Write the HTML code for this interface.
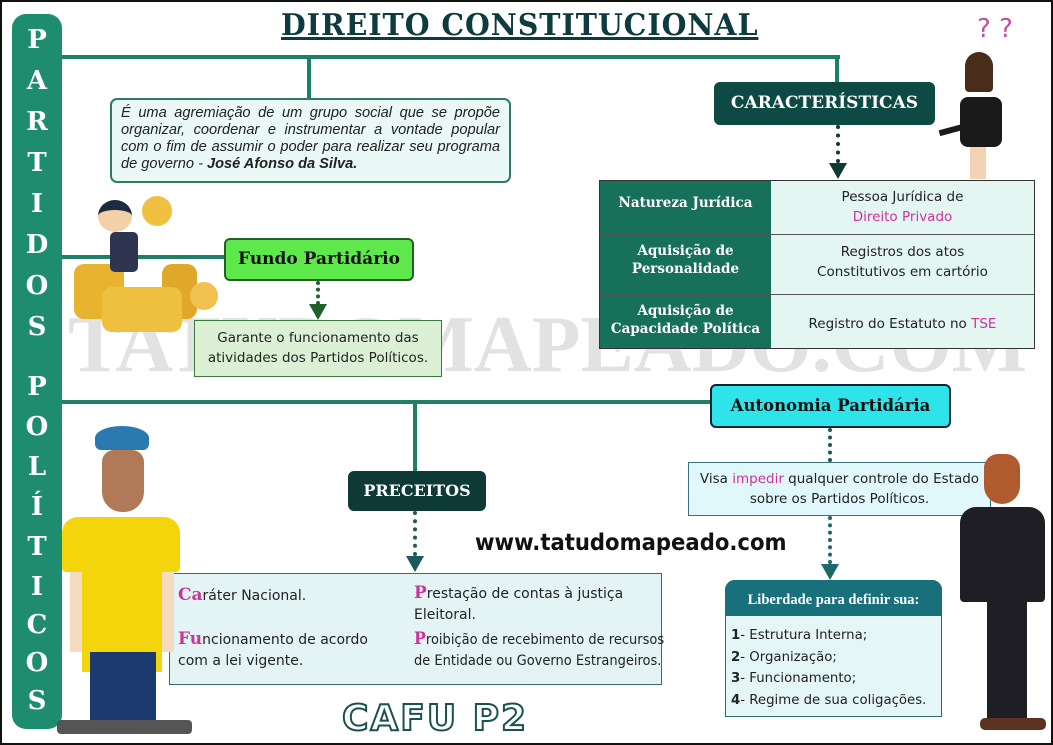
<!DOCTYPE html>
<html><head><meta charset="utf-8"><style>
*{margin:0;padding:0;box-sizing:border-box}
body{width:1053px;height:745px;position:relative;background:#fff;overflow:hidden;font-family:"DejaVu Sans","Liberation Sans",sans-serif;border:2px solid #111}
.a{position:absolute}
.ln{position:absolute;background:#1e8068}
.sf{font-family:"DejaVu Serif","Liberation Serif",serif;font-weight:bold}
.dot{position:absolute;width:0;border-left:4px dotted}
.tri{position:absolute;width:0;height:0;border-left:9px solid transparent;border-right:9px solid transparent;border-top:16px solid}
.c{text-align:center}
.pk{color:#d0329a}
.lt{position:absolute;left:10px;width:50px;text-align:center;color:#fff;font-size:26px;line-height:30px;font-family:"DejaVu Serif","Liberation Serif",serif;font-weight:bold}
</style></head><body>
<!-- watermark -->
<div class="a" style="left:66px;top:298px;width:960px;height:90px;overflow:hidden"><div style="font-family:'Liberation Serif',serif;font-weight:bold;font-size:80px;color:#e2e2e2;white-space:nowrap">TATUDOMAPEADO.COM</div></div>

<!-- left bar -->
<div class="a" style="left:10px;top:12px;width:50px;height:715px;background:#1e8c6e;border-radius:14px"></div>
<div class="lt" style="top:23px">P</div>
<div class="lt" style="top:64px">A</div>
<div class="lt" style="top:105px">R</div>
<div class="lt" style="top:146px">T</div>
<div class="lt" style="top:187px">I</div>
<div class="lt" style="top:228px">D</div>
<div class="lt" style="top:269px">O</div>
<div class="lt" style="top:310px">S</div>
<div class="lt" style="top:370px">P</div>
<div class="lt" style="top:410px">O</div>
<div class="lt" style="top:450px">L</div>
<div class="lt" style="top:490px">Í</div>
<div class="lt" style="top:530px">T</div>
<div class="lt" style="top:570px">I</div>
<div class="lt" style="top:608px">C</div>
<div class="lt" style="top:646px">O</div>
<div class="lt" style="top:684px">S</div>

<!-- title -->
<div class="a sf" style="left:279px;top:6px;font-size:30px;color:#0d3b3f;letter-spacing:1px;text-decoration:underline;text-decoration-thickness:3px;font-weight:900;white-space:nowrap;transform:scaleX(0.95);transform-origin:left">DIREITO CONSTITUCIONAL</div>

<!-- lines -->
<div class="ln" style="left:60px;top:53px;width:778px;height:4px"></div>
<div class="ln" style="left:305px;top:53px;width:4px;height:44px"></div>
<div class="ln" style="left:833px;top:53px;width:4px;height:28px"></div>
<div class="ln" style="left:60px;top:253px;width:163px;height:4px"></div>
<div class="ln" style="left:60px;top:398px;width:650px;height:4px"></div>
<div class="ln" style="left:411px;top:398px;width:4px;height:72px"></div>

<!-- definition -->
<div class="a" style="left:108px;top:96px;width:401px;height:85px;background:#eaf8f6;border:2px solid #2d7a66;border-radius:7px;padding:5px 9px;font-family:'Liberation Sans',sans-serif;font-style:italic;font-size:14.6px;line-height:17px;text-align:justify;color:#222">É uma agremiação de um grupo social que se propõe organizar, coordenar e instrumentar a vontade popular com o fim de assumir o poder para realizar seu programa de governo - <b>José Afonso da Silva.</b></div>

<!-- coins & man -->
<div class="a" style="left:72px;top:262px;width:50px;height:55px;background:#e8b430;border-radius:10px"></div>
<div class="a" style="left:160px;top:262px;width:35px;height:55px;background:#e0a828;border-radius:10px"></div>
<div class="a" style="left:100px;top:285px;width:80px;height:45px;background:#efc040;border-radius:10px"></div>
<div class="a" style="left:188px;top:280px;width:28px;height:28px;background:#f0c050;border-radius:50%"></div>
<div class="a" style="left:140px;top:194px;width:30px;height:30px;background:#f0c040;border-radius:50%"></div>
<div class="a" style="left:96px;top:198px;width:34px;height:32px;background:#f2d0a8;border-radius:50%;border-top:10px solid #1d2a40"></div>
<div class="a" style="left:108px;top:230px;width:28px;height:40px;background:#2d3550;border-radius:5px"></div>

<!-- Fundo -->
<div class="a sf c" style="left:222px;top:236px;width:190px;height:43px;background:#5fe84c;border:2px solid #22602a;border-radius:6px;font-size:17px;line-height:39px;color:#111">Fundo Partidário</div>
<div class="dot" style="left:314px;top:279px;height:24px;border-color:#22602a"></div>
<div class="tri" style="left:307px;top:302px;border-top-color:#22602a"></div>
<div class="a c" style="left:192px;top:318px;width:248px;height:57px;background:#dcf0d6;border:1px solid #3a7a3a;font-size:13.5px;line-height:20px;padding-top:7px;color:#222">Garante o funcionamento das<br>atividades dos Partidos Políticos.</div>

<!-- Caracteristicas -->
<div class="a sf c" style="left:712px;top:80px;width:221px;height:43px;background:#0e4a44;border-radius:6px;color:#fff;font-size:17px;line-height:43px">CARACTERÍSTICAS</div>
<div class="dot" style="left:834px;top:123px;height:38px;border-color:#0e3a36"></div>
<div class="tri" style="left:827px;top:161px;border-top-color:#0e3a36"></div>

<!-- woman -->
<div class="a pk" style="left:975px;top:12px;font-size:26px;color:#c050a0">? ?</div>
<div class="a" style="left:963px;top:50px;width:28px;height:40px;background:#4a2c1a;border-radius:14px 14px 4px 4px"></div>
<div class="a" style="left:958px;top:95px;width:42px;height:50px;background:#1a1a1a;border-radius:8px"></div>
<div class="a" style="left:937px;top:125px;width:25px;height:6px;background:#1a1a1a;transform:rotate(-15deg)"></div>
<div class="a" style="left:968px;top:145px;width:16px;height:32px;background:#f2d4b4"></div>

<!-- table -->
<div class="a" style="left:597px;top:178px;width:436px;height:169px;border:1px solid #333;background:#e4f6f2"></div>
<div class="a" style="left:598px;top:179px;width:171px;height:167px;background:#17705a"></div>
<div class="a" style="left:598px;top:232px;width:434px;height:1px;background:#555"></div>
<div class="a" style="left:598px;top:292px;width:434px;height:1px;background:#555"></div>
<div class="a sf c" style="left:598px;top:193px;width:171px;color:#fff;font-size:13.5px">Natureza Jurídica</div>
<div class="a sf c" style="left:598px;top:240px;width:171px;color:#fff;font-size:13.5px;line-height:18px">Aquisição de<br>Personalidade</div>
<div class="a sf c" style="left:598px;top:300px;width:171px;color:#fff;font-size:13.5px;line-height:18px">Aquisição de<br>Capacidade Política</div>
<div class="a c" style="left:769px;top:185px;width:263px;font-size:13.5px;line-height:20px;color:#222">Pessoa Jurídica de<br><span class="pk">Direito Privado</span></div>
<div class="a c" style="left:769px;top:240px;width:263px;font-size:13.5px;line-height:20px;color:#222">Registros dos atos<br>Constitutivos em cartório</div>
<div class="a c" style="left:769px;top:314px;width:263px;font-size:13.5px;color:#222">Registro do Estatuto no <span class="pk">TSE</span></div>

<!-- Autonomia -->
<div class="a sf c" style="left:708px;top:382px;width:241px;height:44px;background:#2ee4ea;border:2px solid #123;border-radius:6px;font-size:16.5px;line-height:40px;color:#111">Autonomia Partidária</div>
<div class="dot" style="left:826px;top:426px;height:34px;border-color:#1a5a5a"></div>
<div class="a c" style="left:686px;top:460px;width:303px;height:54px;background:#e0f8fc;border:1px solid #3a7080;font-size:13.5px;line-height:20px;padding-top:6px;color:#222">Visa <span class="pk">impedir</span> qualquer controle do Estado<br>sobre os Partidos Políticos.</div>
<div class="dot" style="left:826px;top:514px;height:48px;border-color:#1a6a6a"></div>
<div class="tri" style="left:819px;top:562px;border-top-color:#1a6a6a"></div>

<!-- Liberdade -->
<div class="a" style="left:723px;top:578px;width:217px;height:137px;background:#e4f6f6;border:1px solid #2a6a6a;border-radius:10px 10px 0 0"></div>
<div class="a c" style="left:723px;top:578px;width:217px;height:36px;background:#17707a;border-radius:10px 10px 0 0;color:#fff;font-size:14.5px;font-weight:bold;line-height:40px;font-family:'Liberation Serif',serif">Liberdade para definir sua:</div>
<div class="a" style="left:729px;top:623px;font-size:13.3px;line-height:21.5px;color:#222"><b>1</b>- Estrutura Interna;<br><b>2</b>- Organização;<br><b>3</b>- Funcionamento;<br><b>4</b>- Regime de sua coligações.</div>

<!-- Preceitos -->
<div class="a sf c" style="left:346px;top:469px;width:138px;height:40px;background:#0d3a36;border-radius:6px;color:#fff;font-size:16px;line-height:40px">PRECEITOS</div>
<div class="dot" style="left:411px;top:509px;height:45px;border-color:#1a5a5a"></div>
<div class="tri" style="left:404px;top:554px;border-top-color:#1a5a5a"></div>
<div class="a" style="left:473px;top:528px;font-size:23px;font-weight:bold;color:#111;white-space:nowrap;transform:scaleX(0.92);transform-origin:left">www.tatudomapeado.com</div>
<div class="a" style="left:167px;top:571px;width:493px;height:112px;background:#e4f4f4;border:1px solid #3a6a6a"></div>
<div class="a" style="left:176px;top:583px;font-size:14px;color:#222"><b class="sf pk" style="font-size:17px">Ca</b>ráter Nacional.</div>
<div class="a" style="left:176px;top:627px;font-size:14px;line-height:21px;color:#222"><b class="sf pk" style="font-size:17px">Fu</b>ncionamento de acordo<br>com a lei vigente.</div>
<div class="a" style="left:412px;top:581px;font-size:14px;line-height:21px;color:#222"><b class="sf pk" style="font-size:17px">P</b>restação de contas à justiça<br>Eleitoral.</div>
<div class="a" style="left:412px;top:627px;font-size:14px;line-height:21px;color:#222;white-space:nowrap;transform:scaleX(0.93);transform-origin:left"><b class="sf pk" style="font-size:17px">P</b>roibição de recebimento de recursos<br>de Entidade ou Governo Estrangeiros.</div>

<div class="a" style="left:340px;top:696px;font-size:36px;font-weight:bold;color:#fff;-webkit-text-stroke:2px #1a5050;letter-spacing:2px">CAFU P2</div>

<!-- soccer player -->
<div class="a" style="left:93px;top:424px;width:54px;height:24px;background:#2a7ab0;border-radius:50% 50% 6px 6px"></div>
<div class="a" style="left:100px;top:448px;width:42px;height:62px;background:#b07a58;border-radius:12px 12px 20px 20px"></div>
<div class="a" style="left:60px;top:515px;width:118px;height:55px;background:#f4d40a;border-radius:16px 16px 4px 4px"></div>
<div class="a" style="left:80px;top:560px;width:80px;height:110px;background:#f4d40a"></div>
<div class="a" style="left:68px;top:570px;width:12px;height:80px;background:#f4dcc0"></div>
<div class="a" style="left:160px;top:570px;width:12px;height:80px;background:#f4dcc0"></div>
<div class="a" style="left:88px;top:650px;width:66px;height:70px;background:#1a3a70"></div>
<div class="a" style="left:55px;top:718px;width:135px;height:14px;background:#555;border-radius:4px"></div>

<!-- bearded man -->
<div class="a" style="left:982px;top:452px;width:36px;height:50px;background:#b05a30;border-radius:14px 14px 18px 18px"></div>
<div class="a" style="left:958px;top:505px;width:85px;height:95px;background:#1e1e24;border-radius:16px 16px 4px 4px"></div>
<div class="a" style="left:985px;top:595px;width:40px;height:125px;background:#1e1e24"></div>
<div class="a" style="left:978px;top:716px;width:66px;height:12px;background:#5a3420;border-radius:5px"></div>
</body></html>
